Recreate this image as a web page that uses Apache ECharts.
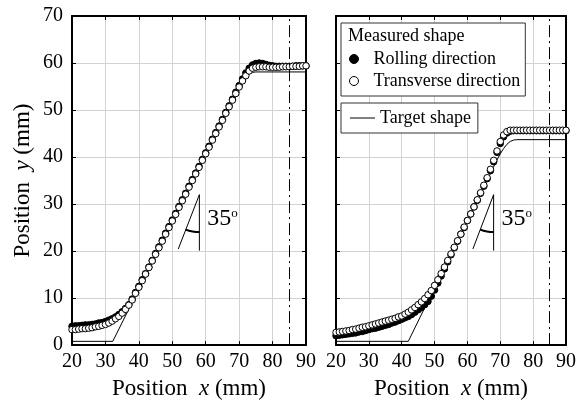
<!DOCTYPE html>
<html>
<head>
<meta charset="utf-8">
<script src="https://cdn.jsdelivr.net/npm/echarts@6/dist/echarts.min.js"></script>
<style>
html, body {margin: 0; padding: 0; background: #fff;}
#ET1 {width: 579px; height: 405px;}
</style>
</head>
<body>
<div id="ET1"></div>
<script>
// measured positions x (mm)
var positions = [20, 21, 22, 23, 24, 25, 26, 27, 28, 29,
    30, 31, 32, 33, 34, 35, 36, 37, 38, 39,
    40, 41, 42, 43, 44, 45, 46, 47, 48, 49,
    50, 51, 52, 53, 54, 55, 56, 57, 58, 59,
    60, 61, 62, 63, 64, 65, 66, 67, 68, 69,
    70, 71, 72, 73, 74, 75, 76, 77, 78, 79,
    80, 81, 82, 83, 84, 85, 86, 87, 88, 89, 90];

// left panel
var rollingLeft = [4.0, 4.1, 4.1, 4.2, 4.3, 4.3, 4.4, 4.5, 4.7, 4.8,
    5.0, 5.3, 5.6, 6.0, 6.5, 7.1, 7.8, 8.6, 9.8, 11.2,
    12.5, 13.9, 15.2, 16.6, 18.0, 19.5, 20.9, 22.3, 23.8, 25.2,
    26.6, 28.0, 29.5, 30.9, 32.3, 33.8, 35.2, 36.6, 38.0, 39.5,
    40.9, 42.3, 43.8, 45.2, 46.6, 48.0, 49.5, 50.9, 52.3, 53.8,
    55.2, 56.6, 57.9, 58.9, 59.6, 59.9, 60.0, 59.9, 59.7, 59.5,
    59.4, 59.3, 59.3, 59.3, 59.3, 59.3, 59.3, 59.4, 59.4, 59.4, 59.4];
var transverseLeft = [3.3, 3.3, 3.4, 3.5, 3.5, 3.6, 3.7, 3.9, 4.0, 4.2,
    4.4, 4.7, 5.1, 5.6, 6.1, 6.8, 7.6, 8.5, 9.6, 11.0,
    12.3, 13.7, 15.1, 16.5, 17.9, 19.3, 20.7, 22.1, 23.6, 25.0,
    26.4, 27.8, 29.3, 30.7, 32.1, 33.6, 35.0, 36.4, 37.8, 39.3,
    40.7, 42.1, 43.6, 45.0, 46.4, 47.8, 49.3, 50.7, 52.1, 53.5,
    54.9, 56.2, 57.3, 58.3, 58.9, 59.1, 59.2, 59.2, 59.2, 59.1,
    59.1, 59.1, 59.1, 59.2, 59.2, 59.2, 59.3, 59.3, 59.3, 59.4, 59.4];
var targetLeft = [[20, 0.8], [32.2, 0.8], [70, 54.8], [71, 56.0], [72, 57.1],
    [73, 57.7], [74, 58.0], [75, 58.1], [90, 58.1]];

// right panel
var rollingRight = [2.0, 2.1, 2.2, 2.3, 2.4, 2.5, 2.6, 2.8, 2.9, 3.1,
    3.3, 3.5, 3.6, 3.8, 4.0, 4.2, 4.4, 4.7, 4.9, 5.2,
    5.5, 5.8, 6.1, 6.5, 7.0, 7.5, 8.0, 8.6, 9.3, 10.4,
    11.7, 13.2, 14.7, 16.2, 17.7, 19.2, 20.7, 22.1, 23.6, 25.0,
    26.5, 27.9, 29.4, 30.8, 32.3, 33.8, 35.4, 37.1, 39.0, 41.0,
    42.9, 44.3, 45.1, 45.5, 45.6, 45.6, 45.6, 45.6, 45.6, 45.6,
    45.6, 45.6, 45.6, 45.6, 45.6, 45.6, 45.6, 45.6, 45.6, 45.6, 45.6];
var transverseRight = [2.7, 2.8, 2.9, 3.0, 3.1, 3.3, 3.4, 3.6, 3.8, 3.9,
    4.1, 4.3, 4.5, 4.7, 4.9, 5.1, 5.3, 5.5, 5.7, 6.0,
    6.2, 6.6, 7.0, 7.5, 8.0, 8.6, 9.2, 9.9, 10.7, 11.6,
    12.7, 13.9, 15.2, 16.6, 18.0, 19.4, 20.8, 22.2, 23.6, 25.1,
    26.5, 27.9, 29.4, 30.9, 32.4, 34.0, 35.6, 37.4, 39.3, 41.3,
    43.3, 44.7, 45.4, 45.7, 45.7, 45.7, 45.7, 45.7, 45.7, 45.7,
    45.7, 45.7, 45.7, 45.7, 45.7, 45.7, 45.7, 45.7, 45.7, 45.7, 45.7];
var targetRight = [[20, 0.8], [42, 0.8], [69, 39.4], [70, 40.7], [71, 41.8],
    [72, 42.7], [73, 43.3], [74, 43.6], [75, 43.7], [90, 43.7]];

// 35 deg angle marks (data coords)
var angleLeft = [[51.8, 20.45], [58.1, 32.0], [58.1, 20.1]];
var arcLeft = [[54.0, 24.55], [56.05, 24.15], [58.1, 24.03]];
var angleRight = [[61.66, 20.45], [67.97, 32.0], [67.97, 20.1]];
var arcRight = [[63.89, 24.55], [65.93, 24.15], [67.97, 24.03]];
var angleLabelLeft = [60.3, 26.9];
var angleLabelRight = [70.2, 26.9];
var endLineX = 85;

~function () {
    var myChart = echarts.init(document.getElementById('ET1'));
    var font = 'Liberation Serif';
    var ink = '#000';

    function pairs(xs, ys) {
        var out = [];
        for (var i = 0; i < xs.length; i++) {
            out.push([xs[i], ys[i]]);
        }
        return out;
    }

    var nameRich = {
        a: {fontFamily: font, fontSize: 23, color: ink},
        i: {fontFamily: font, fontSize: 23, color: ink, fontStyle: 'italic'}
    };

    function bottomAxis(gi) {
        return {
            gridIndex: gi, type: 'value', min: 20, max: 90, interval: 10,
            axisLine: {onZero: false, lineStyle: {color: '#000', width: 2}},
            axisTick: {inside: true, length: 4, lineStyle: {color: '#000'}},
            axisLabel: {color: ink, fontSize: 20, fontFamily: font, margin: 7},
            splitLine: {show: true, lineStyle: {color: '#d2d2d2'}},
            name: '{a|Position  }{i|x}{a| (mm)}',
            nameLocation: 'middle', nameGap: 30,
            nameTextStyle: {rich: nameRich}
        };
    }
    function topAxis(gi) {
        return {
            gridIndex: gi, type: 'value', min: 20, max: 90, interval: 10, position: 'top',
            axisLine: {onZero: false, lineStyle: {color: '#000', width: 2}},
            axisTick: {inside: true, length: 4, lineStyle: {color: '#000'}},
            axisLabel: {show: false}, splitLine: {show: false}
        };
    }
    function leftAxis(gi) {
        var ax = {
            gridIndex: gi, type: 'value', min: 0, max: 70, interval: 10,
            axisLine: {onZero: false, lineStyle: {color: '#000', width: 2}},
            axisTick: {inside: true, length: 4, lineStyle: {color: '#000'}},
            axisLabel: {show: gi === 0, color: ink, fontSize: 20, fontFamily: font, margin: 9},
            splitLine: {show: true, lineStyle: {color: '#d2d2d2'}}
        };
        if (gi === 0) {
            ax.name = '{a|Position  }{i|y}{a| (mm)}';
            ax.nameLocation = 'middle';
            ax.nameGap = 38;
            ax.nameTextStyle = {rich: nameRich};
        }
        return ax;
    }
    function rightAxis(gi) {
        return {
            gridIndex: gi, type: 'value', min: 0, max: 70, interval: 10, position: 'right',
            axisLine: {onZero: false, lineStyle: {color: '#000', width: 2}},
            axisTick: {inside: true, length: 4, lineStyle: {color: '#000'}},
            axisLabel: {show: false}, splitLine: {show: false}
        };
    }

    function panel(gi, target, rolling, transverse, angle, arc, labelPos) {
        return [
            {
                name: 'Target shape', type: 'line', xAxisIndex: gi, yAxisIndex: gi,
                data: target, symbol: 'none', z: 1,
                lineStyle: {color: '#000', width: 1},
                itemStyle: {color: '#000'},
                markLine: {
                    silent: true, symbol: 'none', label: {show: false},
                    lineStyle: {color: '#000', width: 1, type: [12, 4, 2, 4]},
                    data: [{xAxis: endLineX}]
                }
            },
            {
                name: 'Rolling direction', type: 'scatter', xAxisIndex: gi, yAxisIndex: gi,
                data: pairs(positions, rolling), symbol: 'circle', symbolSize: 6.5, z: 2,
                itemStyle: {color: '#000', borderColor: '#000', borderWidth: 1, opacity: 1}
            },
            {
                name: 'Transverse direction', type: 'scatter', xAxisIndex: gi, yAxisIndex: gi,
                data: pairs(positions, transverse), symbol: 'circle', symbolSize: 6.5, z: 3,
                itemStyle: {color: '#fff', borderColor: '#000', borderWidth: 1, opacity: 1}
            },
            {
                type: 'line', xAxisIndex: gi, yAxisIndex: gi, silent: true,
                data: angle, symbol: 'none', lineStyle: {color: '#000', width: 1}
            },
            {
                type: 'line', xAxisIndex: gi, yAxisIndex: gi, silent: true, smooth: true,
                data: arc, symbol: 'none', lineStyle: {color: '#000', width: 2}
            },
            {
                type: 'scatter', xAxisIndex: gi, yAxisIndex: gi, silent: true,
                data: [labelPos], symbolSize: 1, itemStyle: {color: 'rgba(0,0,0,0)', opacity: 1},
                label: {
                    show: true, position: 'right', distance: 0,
                    formatter: '{n|35}{s|o}',
                    rich: {
                        n: {fontFamily: font, fontSize: 24, color: ink},
                        s: {fontFamily: font, fontSize: 13, color: ink, verticalAlign: 'top', padding: [0, 0, 10, 0]}
                    }
                }
            }
        ];
    }

    var option = {
        animation: false,
        backgroundColor: '#fff',
        grid: [
            {left: 72, top: 16, width: 234, height: 333},
            {left: 336, top: 16, width: 233, height: 333}
        ],
        xAxis: [bottomAxis(0), bottomAxis(1), topAxis(0), topAxis(1)],
        yAxis: [leftAxis(0), leftAxis(1), rightAxis(0), rightAxis(1)],
        legend: [
            {
                orient: 'vertical', left: 341, top: 23,
                data: ['Rolling direction', 'Transverse direction'],
                itemWidth: 29, itemHeight: 9, itemGap: 4,
                padding: [27, 5, 6, 8],
                borderColor: '#333', borderWidth: 1, backgroundColor: '#fff',
                selectedMode: false,
                itemStyle: {borderWidth: 1},
                textStyle: {fontFamily: font, fontSize: 18, color: ink}
            },
            {
                orient: 'vertical', left: 341, top: 103,
                data: [{name: 'Target shape', icon: 'rect'}],
                itemWidth: 25, itemHeight: 1,
                padding: [6, 7, 6, 9],
                borderColor: '#333', borderWidth: 1, backgroundColor: '#fff',
                selectedMode: false,
                textStyle: {fontFamily: font, fontSize: 18, color: ink}
            }
        ],
        graphic: [
            {
                type: 'text', left: 348, top: 27, z: 100,
                style: {text: 'Measured shape', fontFamily: font, fontSize: 18, fill: ink}
            }
        ],
        series: panel(0, targetLeft, rollingLeft, transverseLeft, angleLeft, arcLeft, angleLabelLeft)
            .concat(panel(1, targetRight, rollingRight, transverseRight, angleRight, arcRight, angleLabelRight))
    };
    myChart.setOption(option);
}();
</script>
</body>
</html>
